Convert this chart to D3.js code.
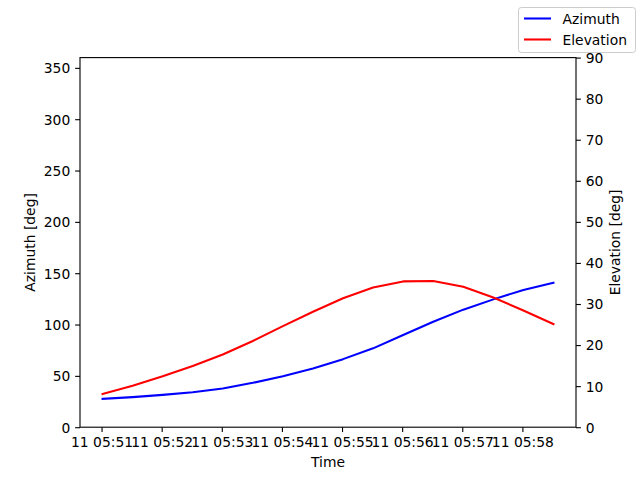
<!DOCTYPE html>
<html>
<head>
<meta charset="utf-8">
<script src="https://cdn.jsdelivr.net/npm/d3@7/dist/d3.min.js"></script>
<style>
  html, body { margin: 0; padding: 0; background: #fff; }
  svg { display: block; font-family: "DejaVu Sans", sans-serif; }
</style>
</head>
<body>
<svg id="chart" width="640" height="480"></svg>
<script>
// ---- data ----
const times = ["2024-01-11T05:51:01", "2024-01-11T05:51:31", "2024-01-11T05:52:01", "2024-01-11T05:52:31",
               "2024-01-11T05:53:01", "2024-01-11T05:53:31", "2024-01-11T05:54:01", "2024-01-11T05:54:31",
               "2024-01-11T05:55:01", "2024-01-11T05:55:31", "2024-01-11T05:56:01", "2024-01-11T05:56:31",
               "2024-01-11T05:57:01", "2024-01-11T05:57:31", "2024-01-11T05:58:01", "2024-01-11T05:58:31"];
const azimuth = [27.6, 29.3, 31.5, 34.1, 37.7, 43.2, 49.7, 57.2, 66.3, 76.8, 89.8, 102.7, 114.5, 124.5, 133.7, 140.8];
const elevation = [8.1, 10.1, 12.4, 14.9, 17.7, 21.0, 24.6, 28.1, 31.4, 34.0, 35.5, 35.6, 34.2, 31.6, 28.4, 25.1];
const xTicks = ["2024-01-11T05:51:00", "2024-01-11T05:52:00", "2024-01-11T05:53:00", "2024-01-11T05:54:00",
                "2024-01-11T05:55:00", "2024-01-11T05:56:00", "2024-01-11T05:57:00", "2024-01-11T05:58:00"];
const azTicks = [0, 50, 100, 150, 200, 250, 300, 350];
const elTicks = [0, 10, 20, 30, 40, 50, 60, 70, 80, 90];
const seriesNames = ["Azimuth", "Elevation"];
const seriesColors = ["#0000ff", "#ff0000"];

// ---- layout ----
const W = 640, H = 480;
const mLeft = 80, mRight = 576, mTop = 57.6, mBottom = 427.2;
const FS = 13.89;

const parse = d3.isoParse;
const tData = times.map(parse);
const t0 = tData[0].getTime(), t1 = tData[tData.length - 1].getTime();
const pad = (t1 - t0) * 0.05;

const x = d3.scaleTime().domain([new Date(t0 - pad), new Date(t1 + pad)]).range([mLeft, mRight]);
const yL = d3.scaleLinear().domain([0, 360]).range([mBottom, mTop]);
const yR = d3.scaleLinear().domain([0, 90]).range([mBottom, mTop]);

const svg = d3.select("#chart");
svg.append("rect").attr("width", W).attr("height", H).attr("fill", "#fff");

// lines
const azData = tData.map((t, i) => [t, azimuth[i]]);
const elData = tData.map((t, i) => [t, elevation[i]]);
svg.append("clipPath").attr("id", "clip").append("rect")
  .attr("x", mLeft).attr("y", mTop).attr("width", mRight - mLeft).attr("height", mBottom - mTop);

svg.append("path").datum(azData)
  .attr("clip-path", "url(#clip)")
  .attr("fill", "none").attr("stroke", seriesColors[0]).attr("stroke-width", 2.08)
  .attr("stroke-linejoin", "round").attr("stroke-linecap", "square")
  .attr("d", d3.line().x(d => x(d[0])).y(d => yL(d[1])));
svg.append("path").datum(elData)
  .attr("clip-path", "url(#clip)")
  .attr("fill", "none").attr("stroke", seriesColors[1]).attr("stroke-width", 2.08)
  .attr("stroke-linejoin", "round").attr("stroke-linecap", "square")
  .attr("d", d3.line().x(d => x(d[0])).y(d => yR(d[1])));

// axes
const tickLen = 4.86, tickPad = 4.86;
const fmt = d3.timeFormat("%d %H:%M");

const gx = svg.append("g").attr("transform", `translate(0,${mBottom})`)
  .call(d3.axisBottom(x).tickValues(xTicks.map(parse)).tickFormat(fmt).tickSize(tickLen).tickPadding(tickPad));
const gl = svg.append("g").attr("transform", `translate(${mLeft},0)`)
  .call(d3.axisLeft(yL).tickValues(azTicks).tickFormat(d3.format("d")).tickSize(tickLen).tickPadding(tickPad));
const gr = svg.append("g").attr("transform", `translate(${mRight},0)`)
  .call(d3.axisRight(yR).tickValues(elTicks).tickFormat(d3.format("d")).tickSize(tickLen).tickPadding(tickPad));

[gx, gl, gr].forEach(g => {
  g.select(".domain").remove();
  g.selectAll(".tick line").attr("stroke", "#000").attr("stroke-width", 1.11);
  g.selectAll(".tick text").attr("fill", "#000").style("font-size", FS + "px")
    .style("font-family", "'DejaVu Sans', sans-serif");
});
gl.selectAll(".tick text").attr("dy", "0.35em");
gr.selectAll(".tick text").attr("dy", "0.35em");

// spines
svg.append("rect").attr("x", mLeft).attr("y", mTop).attr("width", mRight - mLeft).attr("height", mBottom - mTop)
  .attr("fill", "none").attr("stroke", "#000").attr("stroke-width", 1.11);

// axis labels
svg.append("text").attr("x", (mLeft + mRight) / 2).attr("y", 467).attr("text-anchor", "middle")
  .style("font-size", FS + "px").text("Time");
svg.append("text").attr("transform", `translate(35,${(mTop + mBottom) / 2}) rotate(-90)`)
  .attr("text-anchor", "middle").style("font-size", FS + "px").text("Azimuth [deg]");
svg.append("text").attr("transform", `translate(620,${(mTop + mBottom) / 2}) rotate(-90)`)
  .attr("text-anchor", "middle").style("font-size", FS + "px").text("Elevation [deg]");

// legend
const lg = svg.append("g");
lg.append("rect").attr("x", 518.5).attr("y", 7.5).attr("width", 117).attr("height", 45)
  .attr("rx", 2.8).attr("fill", "#fff").attr("fill-opacity", 0.8)
  .attr("stroke", "#cccccc").attr("stroke-width", 1);
seriesNames.forEach((name, i) => {
  const yy = 18.5 + i * 21;
  lg.append("line").attr("x1", 524).attr("x2", 551).attr("y1", yy).attr("y2", yy)
    .attr("stroke", seriesColors[i]).attr("stroke-width", 2.08);
  lg.append("text").attr("x", 562.5).attr("y", yy + 5).style("font-size", FS + "px").text(name);
});
</script>
</body>
</html>
